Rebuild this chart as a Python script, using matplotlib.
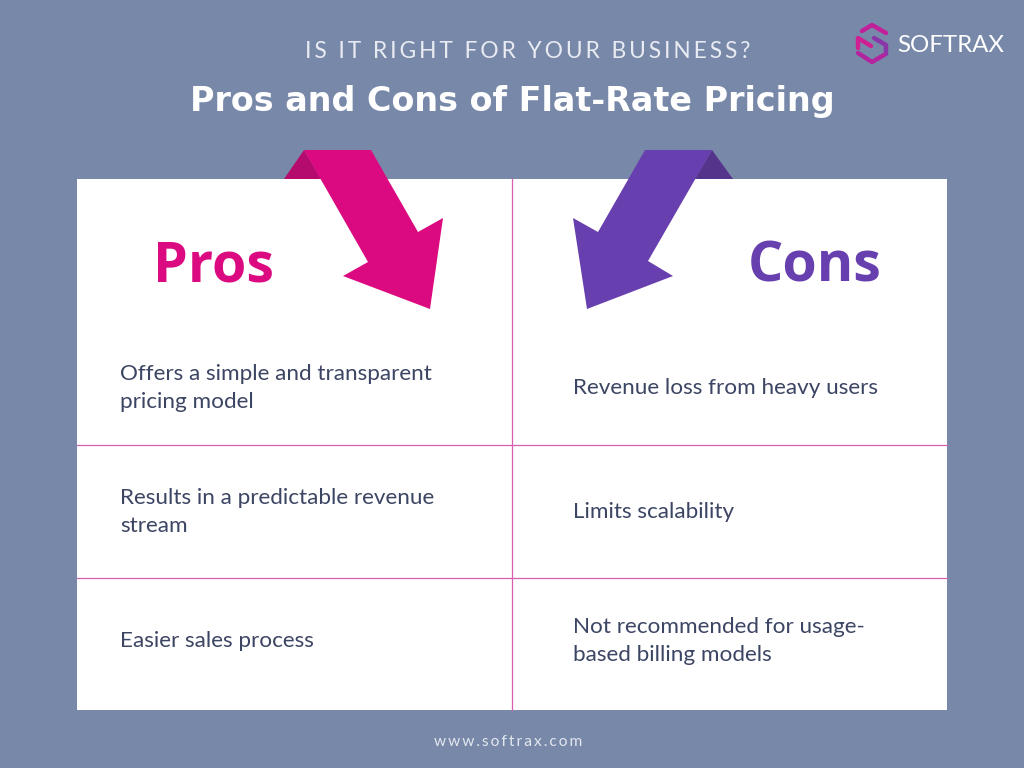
import matplotlib
matplotlib.use('Agg')
from matplotlib import pyplot as plt
from matplotlib.patches import Polygon, Rectangle

# text of the chart
subtitle = 'IS IT RIGHT FOR YOUR BUSINESS?'
title = 'Pros and Cons of Flat-Rate Pricing'
footer = 'www.softrax.com'
headers = ['Pros', 'Cons']
pros = ['Offers a simple and transparent\npricing model',
        'Results in a predictable revenue\nstream',
        'Easier sales process']
cons = ['Revenue loss from heavy users',
        'Limits scalability',
        'Not recommended for usage-\nbased billing models']
row_centers = [388, 512, 641]

BG = '#7888a9'
PINK = '#dc0a80'
PINK_DARK = '#b50b6e'
PURPLE = '#683fae'
PURPLE_DARK = '#55358c'
INK = '#3c4563'
LINE = '#d65fb0'
TRACK = ['Lato', 'DejaVu Sans']

fig = plt.figure(figsize=(10.24, 7.68), dpi=100, facecolor=BG)
ax = fig.add_axes([0, 0, 1, 1])
ax.set_xlim(0, 1024)
ax.set_ylim(768, 0)
ax.axis('off')

#white table
ax.add_patch(Rectangle((77, 179), 870, 531, fc='white', ec='none', zorder=1))
ax.plot([511.8, 511.8], [179, 710], color=LINE, lw=0.9, zorder=2)
ax.plot([77, 947], [445, 445], color=LINE, lw=0.9, zorder=2)
ax.plot([77, 947], [578, 578], color=LINE, lw=0.9, zorder=2)

#arrows
ax.add_patch(Polygon([(284, 179), (304, 150), (321, 179)], fc=PINK_DARK, ec='none', zorder=3))
ax.add_patch(Polygon([(304, 150), (371, 150), (418, 232), (443, 218), (430, 309), (343, 276), (368, 262)],
                     fc=PINK, ec='none', zorder=4))
ax.add_patch(Polygon([(712, 150), (733, 179), (695, 179)], fc=PURPLE_DARK, ec='none', zorder=3))
ax.add_patch(Polygon([(645, 150), (712, 150), (648, 261), (673, 276), (587, 309), (573, 218), (598, 232)],
                     fc=PURPLE, ec='none', zorder=4))

#title, letter spacing done with thin spaces
ax.text(528, 51, '\u2009'.join(subtitle), color='#e8ebf2', fontsize=16.4, family=TRACK,
        ha='center', va='center')
ax.text(512, 102, title, color='white', fontsize=24, family='DejaVu Sans',
        fontweight='bold', ha='center', va='center')
ax.text(508, 742, '\u2009'.join(footer), color='#e3e7ef', fontsize=11.2, family=TRACK,
        ha='center', va='center')

#logo
ax.text(897, 45, 'SOFTRAX', color='white', fontsize=17.3, family='Lato', ha='left', va='center')
logo_w = 3.2
ax.plot([862, 872, 886], [31, 25, 33], color='#c21f9a', lw=logo_w, solid_capstyle='round', zorder=5)
ax.plot([858, 858, 871], [48, 38, 46], color='#cf1f92', lw=logo_w, solid_capstyle='round', zorder=5)
ax.plot([874, 886, 886], [38, 45, 54], color='#8a35a8', lw=logo_w, solid_capstyle='round', zorder=5)
ax.plot([858, 872, 884], [53, 62, 55], color='#b3259f', lw=logo_w, solid_capstyle='round', zorder=5)

#headers
ax.text(214, 267, headers[0], color=PINK, fontsize=40, family='Open Sans', fontweight='bold',
        ha='center', va='center', zorder=6)
ax.text(815, 267, headers[1], color=PURPLE, fontsize=40, family='Open Sans', fontweight='bold',
        ha='center', va='center', zorder=6)

#rows
for label, y in zip(pros, row_centers):
    ax.text(120, y, label, color=INK, fontsize=16.2, family='Lato', ha='left', va='center',
            linespacing=1.55, zorder=6)
for label, y in zip(cons, row_centers):
    ax.text(573, y, label, color=INK, fontsize=16.2, family='Lato', ha='left', va='center',
            linespacing=1.55, zorder=6)

fig.savefig('out.png', dpi=100, facecolor=BG)
